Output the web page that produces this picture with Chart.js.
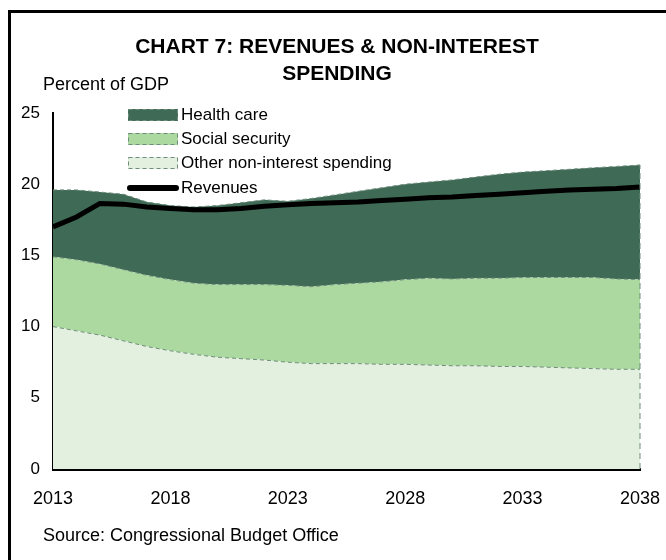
<!DOCTYPE html>
<html>
<head>
<meta charset="utf-8">
<script src="https://cdn.jsdelivr.net/npm/chart.js@4"></script>
<style>
  html, body { margin: 0; padding: 0; background: #fff; }
  #wrap { width: 666px; height: 560px; position: relative; }
</style>
</head>
<body>
<div id="wrap"><canvas id="chart7" width="666" height="560"></canvas></div>
<script>
// CBO long-term budget outlook, percent of GDP
const years = [2013, 2014, 2015, 2016, 2017, 2018, 2019, 2020, 2021, 2022, 2023, 2024, 2025,
               2026, 2027, 2028, 2029, 2030, 2031, 2032, 2033, 2034, 2035, 2036, 2037, 2038];
const tickYears = [2013, 2018, 2023, 2028, 2033, 2038];

const otherSpending = [10.0, 9.7, 9.4, 9.0, 8.6, 8.3, 8.05, 7.85, 7.75, 7.65, 7.5, 7.4, 7.4,
                       7.4, 7.35, 7.35, 7.3, 7.25, 7.25, 7.2, 7.2, 7.15, 7.1, 7.05, 7.0, 7.0];
const socialSecurity = [4.9, 5.0, 5.0, 5.0, 5.0, 5.0, 5.0, 5.1, 5.2, 5.3, 5.4, 5.4, 5.55,
                        5.65, 5.8, 5.95, 6.1, 6.1, 6.15, 6.2, 6.25, 6.3, 6.35, 6.4, 6.35, 6.3];
const healthCare = [4.7, 4.9, 5.05, 5.3, 5.15, 5.2, 5.35, 5.55, 5.75, 5.95, 5.9, 6.2, 6.3,
                    6.45, 6.6, 6.7, 6.75, 6.95, 7.1, 7.3, 7.4, 7.5, 7.6, 7.7, 7.9, 8.05];
const revenues = [17.0, 17.7, 18.65, 18.6, 18.4, 18.3, 18.2, 18.2, 18.3, 18.45, 18.55, 18.65, 18.7,
                  18.75, 18.85, 18.95, 19.05, 19.1, 19.2, 19.3, 19.4, 19.5, 19.6, 19.65, 19.7, 19.8];

const FONT = '"Liberation Sans", Arial, sans-serif';
const edge = '#6e8c7c';
const legendOrder = [2, 1, 0, 3];   // health care on top of the key, revenues last

function area(label, data, color, fill) {
  return {
    label, data, fill, stack: 'spend',
    backgroundColor: color,
    borderColor: edge,
    borderWidth: 1,
    borderDash: [4, 3],
    pointRadius: 0,
    tension: 0
  };
}

// frame, headings, legend and the dashed right edge of the stacked areas
const decorations = {
  id: 'decorations',
  beforeDraw(chart) {
    const ctx = chart.ctx;
    ctx.save();
    ctx.fillStyle = '#fff';
    ctx.fillRect(0, 0, chart.width, chart.height);
    ctx.strokeStyle = '#000';
    ctx.lineWidth = 3;
    ctx.beginPath();
    ctx.moveTo(9.5, chart.height);
    ctx.lineTo(9.5, 11.5);
    ctx.lineTo(chart.width, 11.5);
    ctx.stroke();
    ctx.restore();
  },
  afterDatasetsDraw(chart) {
    const {ctx, scales: {x, y}} = chart;
    const last = years.length - 1;
    const top = otherSpending[last] + socialSecurity[last] + healthCare[last];
    const px = x.getPixelForValue(last);
    ctx.save();
    ctx.strokeStyle = edge;
    ctx.lineWidth = 1;
    ctx.setLineDash([6, 4]);
    ctx.beginPath();
    ctx.moveTo(px, y.getPixelForValue(0));
    ctx.lineTo(px, y.getPixelForValue(top));
    ctx.stroke();
    ctx.restore();
  },
  afterDraw(chart) {
    const ctx = chart.ctx;
    ctx.save();
    ctx.fillStyle = '#000';
    ctx.textBaseline = 'middle';
    ctx.textAlign = 'center';
    ctx.font = 'bold 21px ' + FONT;
    ctx.fillText('CHART 7: REVENUES & NON-INTEREST', 337, 47);
    ctx.fillText('SPENDING', 337, 74);

    ctx.textAlign = 'left';
    ctx.font = '18px ' + FONT;
    ctx.fillText('Percent of GDP', 43, 85);
    ctx.fillText('Source: Congressional Budget Office', 43, 536);

    // legend
    ctx.font = '17px ' + FONT;
    const rows = [115, 139, 163, 188];
    legendOrder.forEach((idx, i) => {
      const ds = chart.data.datasets[idx];
      const cy = rows[i];
      if (ds.stack === 'spend') {
        ctx.fillStyle = ds.backgroundColor;
        ctx.fillRect(128, cy - 6, 50, 12);
        ctx.strokeStyle = edge;
        ctx.lineWidth = 1;
        ctx.setLineDash([4, 3]);
        ctx.strokeRect(128.5, cy - 5.5, 49, 11);
        ctx.setLineDash([]);
      } else {
        ctx.strokeStyle = ds.borderColor;
        ctx.lineWidth = ds.borderWidth + 1;
        ctx.lineCap = 'round';
        ctx.beginPath();
        ctx.moveTo(130, cy);
        ctx.lineTo(176, cy);
        ctx.stroke();
      }
      ctx.fillStyle = '#000';
      ctx.fillText(ds.label, 181, cy);
    });
    ctx.restore();
  }
};

new Chart(document.getElementById('chart7'), {
  type: 'line',
  data: {
    labels: years,
    // areas stack from the bottom up in dataset order
    datasets: [
      area('Other non-interest spending', otherSpending, '#e4f0df', 'origin'),
      area('Social security', socialSecurity, '#acd99f', '-1'),
      area('Health care', healthCare, '#3e6a56', '-1'),
      {
        label: 'Revenues', data: revenues, stack: 'rev', order: -1,
        borderColor: '#000', borderWidth: 5, pointRadius: 0, tension: 0, fill: false
      }
    ]
  },
  options: {
    responsive: false,
    animation: false,
    layout: { padding: { top: 113, left: 0, right: 26, bottom: 0 } },
    plugins: { legend: { display: false }, title: { display: false }, tooltip: { enabled: false } },
    scales: {
      x: {
        grid: { display: false, drawTicks: false },
        border: { display: true, color: '#000', width: 3 },
        ticks: {
          autoSkip: false, maxRotation: 0, padding: 19,
          color: '#000', font: { family: FONT, size: 18 },
          callback(v) { const yr = years[v]; return tickYears.includes(yr) ? String(yr) : ''; }
        },
        afterFit(s) { s.height = 91; s.paddingLeft = 0; s.paddingRight = 0; }
      },
      y: {
        stacked: true, min: 0, max: 25,
        grid: { display: false, drawTicks: false },
        border: { display: true, color: '#000', width: 2 },
        ticks: { stepSize: 5, padding: 13, color: '#000', font: { family: FONT, size: 17 } },
        afterFit(s) { s.width = 53; s.paddingTop = 0; s.paddingBottom = 0; }
      }
    }
  },
  plugins: [decorations]
});
</script>
</body>
</html>
